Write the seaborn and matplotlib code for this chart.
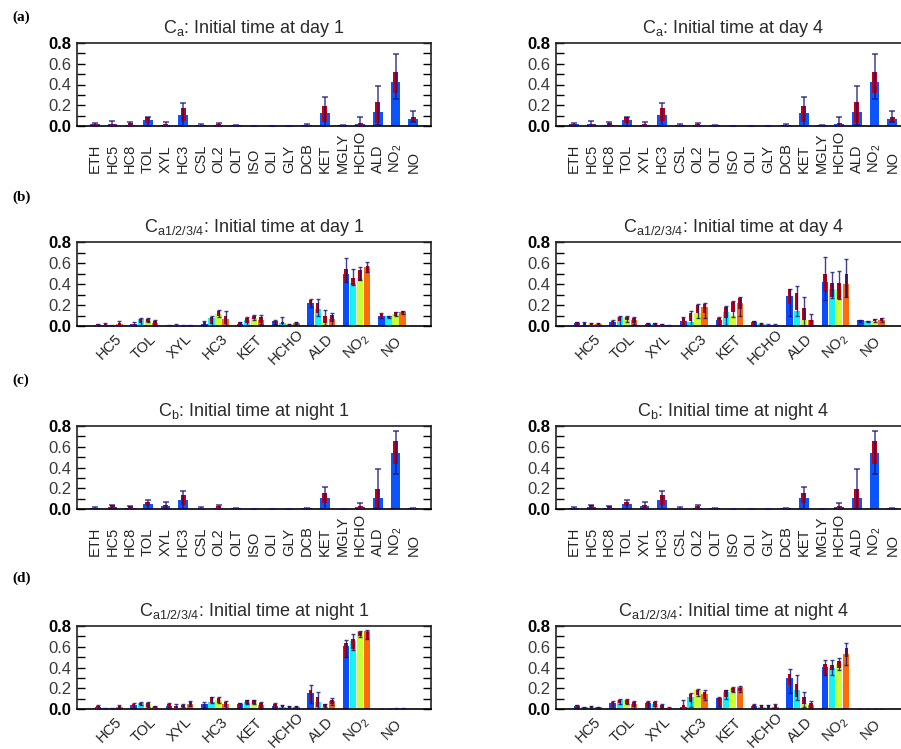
import numpy as np
import pandas as pd
import matplotlib
matplotlib.use("Agg")
import matplotlib.pyplot as plt
from matplotlib.ticker import MultipleLocator
import seaborn as sns

plt.rcParams['font.family'] = ['Liberation Sans', 'DejaVu Sans']
plt.rcParams['mathtext.fontset'] = 'custom'
plt.rcParams['mathtext.rm'] = 'Liberation Sans'
plt.rcParams['mathtext.it'] = 'Liberation Sans:italic'
plt.rcParams['mathtext.bf'] = 'Liberation Sans:bold'

# ---------------- categories ----------------
species_all = ['ETH', 'HC5', 'HC8', 'TOL', 'XYL', 'HC3', 'CSL', 'OL2', 'OLT', 'ISO',
               'OLI', 'GLY', 'DCB', 'KET', 'MGLY', 'HCHO', 'ALD', 'NO$_2$', 'NO']
species_sub = ['HC5', 'TOL', 'XYL', 'HC3', 'KET', 'HCHO', 'ALD', 'NO$_2$', 'NO']
runs = ['a1', 'a2', 'a3', 'a4']
yticks = [0.0, 0.2, 0.4, 0.6, 0.8]
ytick_labels = ['0.0', '0.2', '0.4', '0.6', '0.8']

# ---------------- (a) C_a (day 1 and day 4 identical) ----------------
a_mean = [0.016, 0.02, 0.013, 0.058, 0.013, 0.105, 0.01, 0.01, 0.006, 0.003, 0.003, 0.003, 0.006, 0.125, 0.006, 0.016, 0.134, 0.425, 0.07]
a_q_lo = [0.005, 0.0, 0.0, 0.03, 0.0, 0.048, 0.003, 0.0, 0.002, 0.001, 0.001, 0.001, 0.002, 0.042, 0.002, 0.0, 0.032, 0.314, 0.04]
a_q_hi = [0.02, 0.02, 0.025, 0.083, 0.02, 0.176, 0.012, 0.02, 0.006, 0.003, 0.003, 0.003, 0.008, 0.192, 0.006, 0.032, 0.23, 0.52, 0.086]
a_w_lo = [0, 0, 0, 0, 0, 0, 0, 0, 0, 0, 0, 0, 0, 0, 0, 0, 0.01, 0.256, 0.04]
a_w_hi = [0.025, 0.05, 0.035, 0.083, 0.035, 0.224, 0.015, 0.03, 0.008, 0.004, 0.004, 0.004, 0.02, 0.275, 0.008, 0.083, 0.384, 0.694, 0.147]

# ---------------- (c) C_b (night 1 and night 4 identical) ----------------
c_mean = [0.013, 0.016, 0.013, 0.051, 0.026, 0.087, 0.002, 0.013, 0.01, 0.003, 0.003, 0.003, 0.006, 0.106, 0.003, 0.016, 0.106, 0.54, 0.006]
c_q_lo = [0.005, 0.006, 0.0, 0.029, 0.006, 0.039, 0.0, 0.0, 0.004, 0.001, 0.001, 0.001, 0.002, 0.055, 0.001, 0.0, 0.006, 0.43, 0.002]
c_q_hi = [0.013, 0.039, 0.026, 0.068, 0.039, 0.132, 0.002, 0.026, 0.01, 0.003, 0.003, 0.003, 0.006, 0.154, 0.003, 0.032, 0.19, 0.656, 0.006]
c_w_lo = [0, 0, 0, 0, 0, 0, 0, 0, 0, 0, 0, 0, 0, 0, 0, 0, 0, 0.334, 0]
c_w_hi = [0.016, 0.042, 0.026, 0.084, 0.071, 0.177, 0.019, 0.035, 0.013, 0.004, 0.004, 0.004, 0.01, 0.215, 0.004, 0.061, 0.386, 0.752, 0.01]

# ---------------- (b) C_a1/2/3/4 day 1 (rows = a1..a4) ----------------
b1_mean = [[0.013, 0.022, 0.01, 0.022, 0.02, 0.05, 0.22, 0.496, 0.096],
           [0.01, 0.07, 0.013, 0.074, 0.054, 0.032, 0.166, 0.406, 0.093],
           [0.006, 0.07, 0.006, 0.112, 0.077, 0.02, 0.038, 0.454, 0.112],
           [0.022, 0.03, 0.01, 0.064, 0.06, 0.03, 0.07, 0.56, 0.131]]
b1_q_lo = [[0.003, 0.0, 0.003, 0.01, 0.006, 0.03, 0.19, 0.42, 0.086],
           [0.0, 0.03, 0.003, 0.022, 0.03, 0.016, 0.125, 0.39, 0.08],
           [0.002, 0.04, 0.002, 0.1, 0.07, 0.01, 0.032, 0.43, 0.093],
           [0.0, 0.006, 0.003, 0.022, 0.03, 0.02, 0.038, 0.518, 0.112]]
b1_q_hi = [[0.02, 0.02, 0.01, 0.035, 0.035, 0.05, 0.25, 0.545, 0.112],
           [0.016, 0.067, 0.013, 0.086, 0.08, 0.04, 0.22, 0.454, 0.1],
           [0.01, 0.07, 0.008, 0.144, 0.1, 0.02, 0.093, 0.534, 0.131],
           [0.03, 0.045, 0.01, 0.1, 0.09, 0.035, 0.109, 0.573, 0.144]]
b1_w_lo = [[0, 0, 0, 0, 0, 0.02, 0.18, 0.42, 0.08],
           [0, 0, 0, 0, 0, 0, 0.1, 0.39, 0.08],
           [0, 0.04, 0, 0.086, 0.06, 0, 0.006, 0.44, 0.093],
           [0, 0, 0, 0.006, 0.022, 0.015, 0, 0.518, 0.112]]
b1_w_hi = [[0.02, 0.04, 0.013, 0.045, 0.04, 0.055, 0.256, 0.643, 0.12],
           [0.03, 0.074, 0.02, 0.096, 0.083, 0.083, 0.256, 0.54, 0.1],
           [0.01, 0.074, 0.01, 0.15, 0.109, 0.022, 0.157, 0.56, 0.134],
           [0.045, 0.058, 0.013, 0.144, 0.109, 0.035, 0.12, 0.605, 0.147]]

# ---------------- (b) C_a1/2/3/4 day 4 ----------------
b4_mean = [[0.032, 0.038, 0.016, 0.045, 0.054, 0.035, 0.285, 0.42, 0.054],
           [0.01, 0.086, 0.022, 0.038, 0.131, 0.016, 0.144, 0.352, 0.048],
           [0.016, 0.083, 0.01, 0.125, 0.1, 0.01, 0.054, 0.352, 0.045],
           [0.022, 0.06, 0.006, 0.182, 0.22, 0.01, 0.054, 0.4, 0.054]]
b4_q_lo = [[0.006, 0.006, 0.006, 0.01, 0.01, 0.01, 0.214, 0.326, 0.04],
           [0.006, 0.045, 0.006, 0.045, 0.08, 0.006, 0.15, 0.278, 0.04],
           [0.003, 0.054, 0.003, 0.125, 0.134, 0.003, 0.06, 0.253, 0.045],
           [0.003, 0.03, 0.002, 0.125, 0.166, 0.003, 0.006, 0.278, 0.045]]
b4_q_hi = [[0.035, 0.045, 0.029, 0.074, 0.074, 0.045, 0.35, 0.496, 0.054],
           [0.032, 0.086, 0.029, 0.128, 0.182, 0.029, 0.31, 0.406, 0.05],
           [0.029, 0.086, 0.016, 0.198, 0.23, 0.012, 0.173, 0.406, 0.067],
           [0.029, 0.077, 0.006, 0.214, 0.262, 0.012, 0.06, 0.496, 0.077]]
b4_w_lo = [[0, 0, 0, 0, 0, 0, 0.096, 0.246, 0.04],
           [0, 0, 0, 0, 0.006, 0, 0.093, 0.262, 0.04],
           [0, 0.04, 0, 0.08, 0.086, 0, 0, 0.253, 0.04],
           [0, 0.02, 0, 0.08, 0.1, 0, 0, 0.272, 0.04]]
b4_w_hi = [[0.038, 0.054, 0.032, 0.086, 0.086, 0.05, 0.355, 0.653, 0.058],
           [0.042, 0.093, 0.032, 0.144, 0.189, 0.032, 0.384, 0.518, 0.052],
           [0.032, 0.093, 0.022, 0.208, 0.237, 0.016, 0.272, 0.525, 0.067],
           [0.029, 0.086, 0.01, 0.22, 0.272, 0.016, 0.118, 0.637, 0.077]]

# ---------------- (d) C_a1/2/3/4 night 1 ----------------
d1_mean = [[0.016, 0.038, 0.032, 0.048, 0.048, 0.029, 0.157, 0.605, 0.003],
           [0.01, 0.06, 0.01, 0.07, 0.07, 0.022, 0.07, 0.656, 0.003],
           [0.006, 0.045, 0.019, 0.086, 0.077, 0.019, 0.022, 0.752, 0.005],
           [0.016, 0.022, 0.048, 0.045, 0.038, 0.019, 0.077, 0.752, 0.004]]
d1_q_lo = [[0.003, 0.01, 0.01, 0.006, 0.01, 0.006, 0.07, 0.502, 0.001],
           [0.002, 0.042, 0.003, 0.06, 0.048, 0.016, 0.022, 0.582, 0.001],
           [0.002, 0.022, 0.019, 0.06, 0.048, 0.01, 0.016, 0.7, 0.002],
           [0.006, 0.003, 0.029, 0.016, 0.006, 0.01, 0.045, 0.67, 0.001]]
d1_q_hi = [[0.032, 0.048, 0.045, 0.048, 0.054, 0.045, 0.182, 0.637, 0.003],
           [0.012, 0.06, 0.029, 0.112, 0.086, 0.035, 0.112, 0.678, 0.003],
           [0.008, 0.06, 0.042, 0.109, 0.083, 0.025, 0.048, 0.742, 0.005],
           [0.032, 0.029, 0.064, 0.064, 0.054, 0.025, 0.086, 0.742, 0.004]]
d1_w_lo = [[0, 0, 0, 0, 0, 0, 0.06, 0.502, 0],
           [0, 0.04, 0, 0.054, 0.045, 0.01, 0.006, 0.566, 0],
           [0, 0.02, 0.015, 0.054, 0.045, 0.01, 0.016, 0.694, 0],
           [0, 0, 0.025, 0.01, 0.003, 0.01, 0.04, 0.67, 0]]
d1_w_hi = [[0.038, 0.054, 0.054, 0.064, 0.058, 0.06, 0.234, 0.662, 0.004],
           [0.013, 0.064, 0.045, 0.115, 0.09, 0.038, 0.166, 0.72, 0.004],
           [0.01, 0.064, 0.045, 0.118, 0.086, 0.028, 0.051, 0.749, 0.006],
           [0.035, 0.032, 0.074, 0.074, 0.07, 0.028, 0.102, 0.758, 0.005]]

# ---------------- (d) C_a1/2/3/4 night 4 ----------------
d4_mean = [[0.032, 0.06, 0.054, 0.022, 0.102, 0.029, 0.294, 0.406, 0.003],
           [0.016, 0.086, 0.045, 0.118, 0.16, 0.022, 0.182, 0.4, 0.003],
           [0.019, 0.083, 0.022, 0.182, 0.198, 0.022, 0.054, 0.438, 0.003],
           [0.016, 0.048, 0.013, 0.144, 0.211, 0.022, 0.035, 0.534, 0.003]]
d4_q_lo = [[0.01, 0.022, 0.022, 0.003, 0.042, 0.01, 0.234, 0.326, 0.001],
           [0.005, 0.054, 0.022, 0.064, 0.118, 0.01, 0.118, 0.374, 0.001],
           [0.006, 0.048, 0.006, 0.138, 0.166, 0.01, 0.048, 0.4, 0.001],
           [0.005, 0.022, 0.004, 0.093, 0.173, 0.01, 0.01, 0.502, 0.001]]
d4_q_hi = [[0.035, 0.07, 0.07, 0.038, 0.106, 0.038, 0.336, 0.438, 0.003],
           [0.02, 0.086, 0.064, 0.141, 0.182, 0.035, 0.237, 0.422, 0.003],
           [0.026, 0.086, 0.038, 0.182, 0.205, 0.035, 0.112, 0.46, 0.003],
           [0.02, 0.064, 0.013, 0.166, 0.205, 0.038, 0.054, 0.592, 0.003]]
d4_w_lo = [[0, 0, 0, 0, 0.03, 0, 0.15, 0.326, 0],
           [0, 0.05, 0, 0.02, 0.093, 0, 0.086, 0.326, 0],
           [0, 0.045, 0, 0.125, 0.16, 0, 0.02, 0.374, 0],
           [0, 0, 0, 0.086, 0.165, 0, 0, 0.422, 0]]
d4_w_hi = [[0.042, 0.08, 0.077, 0.083, 0.118, 0.051, 0.39, 0.47, 0.004],
           [0.022, 0.093, 0.077, 0.15, 0.182, 0.035, 0.323, 0.47, 0.004],
           [0.029, 0.093, 0.045, 0.189, 0.211, 0.035, 0.166, 0.493, 0.004],
           [0.022, 0.077, 0.016, 0.182, 0.22, 0.045, 0.08, 0.64, 0.004]]

# ---------------- styling ----------------
BLUE = '#0B55FF'
RUN_COLORS = ['#0A4CFF', '#14F2F2', '#CCFF33', '#FF6A0A']
RED = '#C00012'
NAVY = '#12127A'


def draw_single(ax, mean, qlo, qhi, wlo, whi):
    df = pd.DataFrame({'species': species_all, 'value': mean})
    sns.barplot(data=df, x='species', y='value', order=species_all, color=BLUE,
                width=0.55, saturation=1, linewidth=0, errorbar=None, ax=ax)
    xs = [p.get_x() + p.get_width() / 2 for p in list(ax.containers)[0]]
    qlo, qhi, wlo, whi = map(np.asarray, (qlo, qhi, wlo, whi))
    ax.bar(xs, qhi - qlo, bottom=qlo, width=0.28, color=RED, linewidth=0, zorder=3)
    ax.errorbar(xs, wlo, yerr=[np.zeros(len(xs)), whi - wlo], fmt='none',
                ecolor=NAVY, elinewidth=1.1, capsize=2.2, capthick=1.1,
                alpha=0.8, zorder=4)


def draw_groups(ax, mean, qlo, qhi, wlo, whi):
    rows = []
    for j, run in enumerate(runs):
        for i, sp in enumerate(species_sub):
            rows.append((sp, run, mean[j][i]))
    df = pd.DataFrame(rows, columns=['species', 'run', 'value'])
    sns.barplot(data=df, x='species', y='value', hue='run', order=species_sub,
                hue_order=runs, palette=RUN_COLORS, width=0.8, gap=0.1,
                saturation=1, linewidth=0, errorbar=None, legend=False, ax=ax)
    conts = list(ax.containers)
    for j, cont in enumerate(conts):
        xs = [p.get_x() + p.get_width() / 2 for p in cont]
        lo, hi = np.asarray(qlo[j]), np.asarray(qhi[j])
        wl, wh = np.asarray(wlo[j]), np.asarray(whi[j])
        ax.bar(xs, hi - lo, bottom=lo, width=0.1, color=RED, linewidth=0, zorder=3)
        ax.errorbar(xs, wl, yerr=[np.zeros(len(xs)), wh - wl], fmt='none',
                    ecolor=NAVY, elinewidth=1.0, capsize=1.6, capthick=1.0,
                    alpha=0.8, zorder=4)


def style(ax, xlim, title, grouped):
    ax.set_xlim(*xlim)
    ax.set_ylim(0, 0.8)
    ax.set_xlabel('')
    ax.set_ylabel('')
    ax.set_yticks(yticks)
    ax.set_yticklabels(ytick_labels)
    ax.yaxis.set_minor_locator(MultipleLocator(0.1))
    ax.tick_params(axis='y', which='both', direction='in', length=6, width=1,
                   left=True, right=True, labelsize=12, pad=4, labelcolor='#3a3a3a')
    ytl = ax.get_yticklabels()
    for k in (0, len(ytl) - 1):
        ytl[k].set_fontweight('bold')
        ytl[k].set_color('black')
    if grouped:
        ax.tick_params(axis='x', length=0, labelsize=10.5, pad=15, labelcolor='#222222')
        for t in ax.get_xticklabels():
            t.set_rotation(45)
            t.set_rotation_mode('anchor')
            t.set_ha('center')
            t.set_va('center')
    else:
        ax.tick_params(axis='x', length=0, labelsize=10.5, pad=34, labelcolor='#222222')
        for t in ax.get_xticklabels():
            t.set_rotation(90)
            t.set_rotation_mode('anchor')
            t.set_ha('left')
            t.set_va('center')
    for s in ax.spines.values():
        s.set_linewidth(1.2)
        s.set_color('#222222')
    ax.spines['bottom'].set_color('black')
    ax.set_title(title, fontsize=13, pad=7, color='#2a2a2a')


fig = plt.figure(figsize=(9.01, 7.49), dpi=100)
W, H = 901.0, 749.0


def axes_at(left_px, top_px, bottom_px, width_px=354):
    return fig.add_axes([left_px / W, 1 - bottom_px / H, width_px / W, (bottom_px - top_px) / H])


rows_px = {'a': (43, 126), 'b': (242, 326), 'c': (426, 509), 'd': (626, 709)}
LEFT, RIGHT = 77, 556

# (a)
for left, title in ((LEFT, 'day 1'), (RIGHT, 'day 4')):
    ax = axes_at(left, *rows_px['a'])
    draw_single(ax, a_mean, a_q_lo, a_q_hi, a_w_lo, a_w_hi)
    style(ax, (-1.0, 19.0), r'C$_{\mathrm{a}}$: Initial time at ' + title, False)

# (b)
for left, title, dat in ((LEFT, 'day 1', (b1_mean, b1_q_lo, b1_q_hi, b1_w_lo, b1_w_hi)),
                         (RIGHT, 'day 4', (b4_mean, b4_q_lo, b4_q_hi, b4_w_lo, b4_w_hi))):
    ax = axes_at(left, *rows_px['b'])
    draw_groups(ax, *dat)
    style(ax, (-0.9, 9.1), r'C$_{\mathrm{a1/2/3/4}}$: Initial time at ' + title, True)

# (c)
for left, title in ((LEFT, 'night 1'), (RIGHT, 'night 4')):
    ax = axes_at(left, *rows_px['c'])
    draw_single(ax, c_mean, c_q_lo, c_q_hi, c_w_lo, c_w_hi)
    style(ax, (-1.0, 19.0), r'C$_{\mathrm{b}}$: Initial time at ' + title, False)

# (d)
for left, title, dat in ((LEFT, 'night 1', (d1_mean, d1_q_lo, d1_q_hi, d1_w_lo, d1_w_hi)),
                         (RIGHT, 'night 4', (d4_mean, d4_q_lo, d4_q_hi, d4_w_lo, d4_w_hi))):
    ax = axes_at(left, *rows_px['d'])
    draw_groups(ax, *dat)
    style(ax, (-0.9, 9.1), r'C$_{\mathrm{a1/2/3/4}}$: Initial time at ' + title, True)

for lab, ypx in (('(a)', 17), ('(b)', 197), ('(c)', 380), ('(d)', 578)):
    fig.text(12 / W, 1 - ypx / H, lab, fontfamily='Liberation Serif',
             fontweight='bold', fontsize=11, va='center', ha='left')

fig.savefig('out.png', dpi=100)
